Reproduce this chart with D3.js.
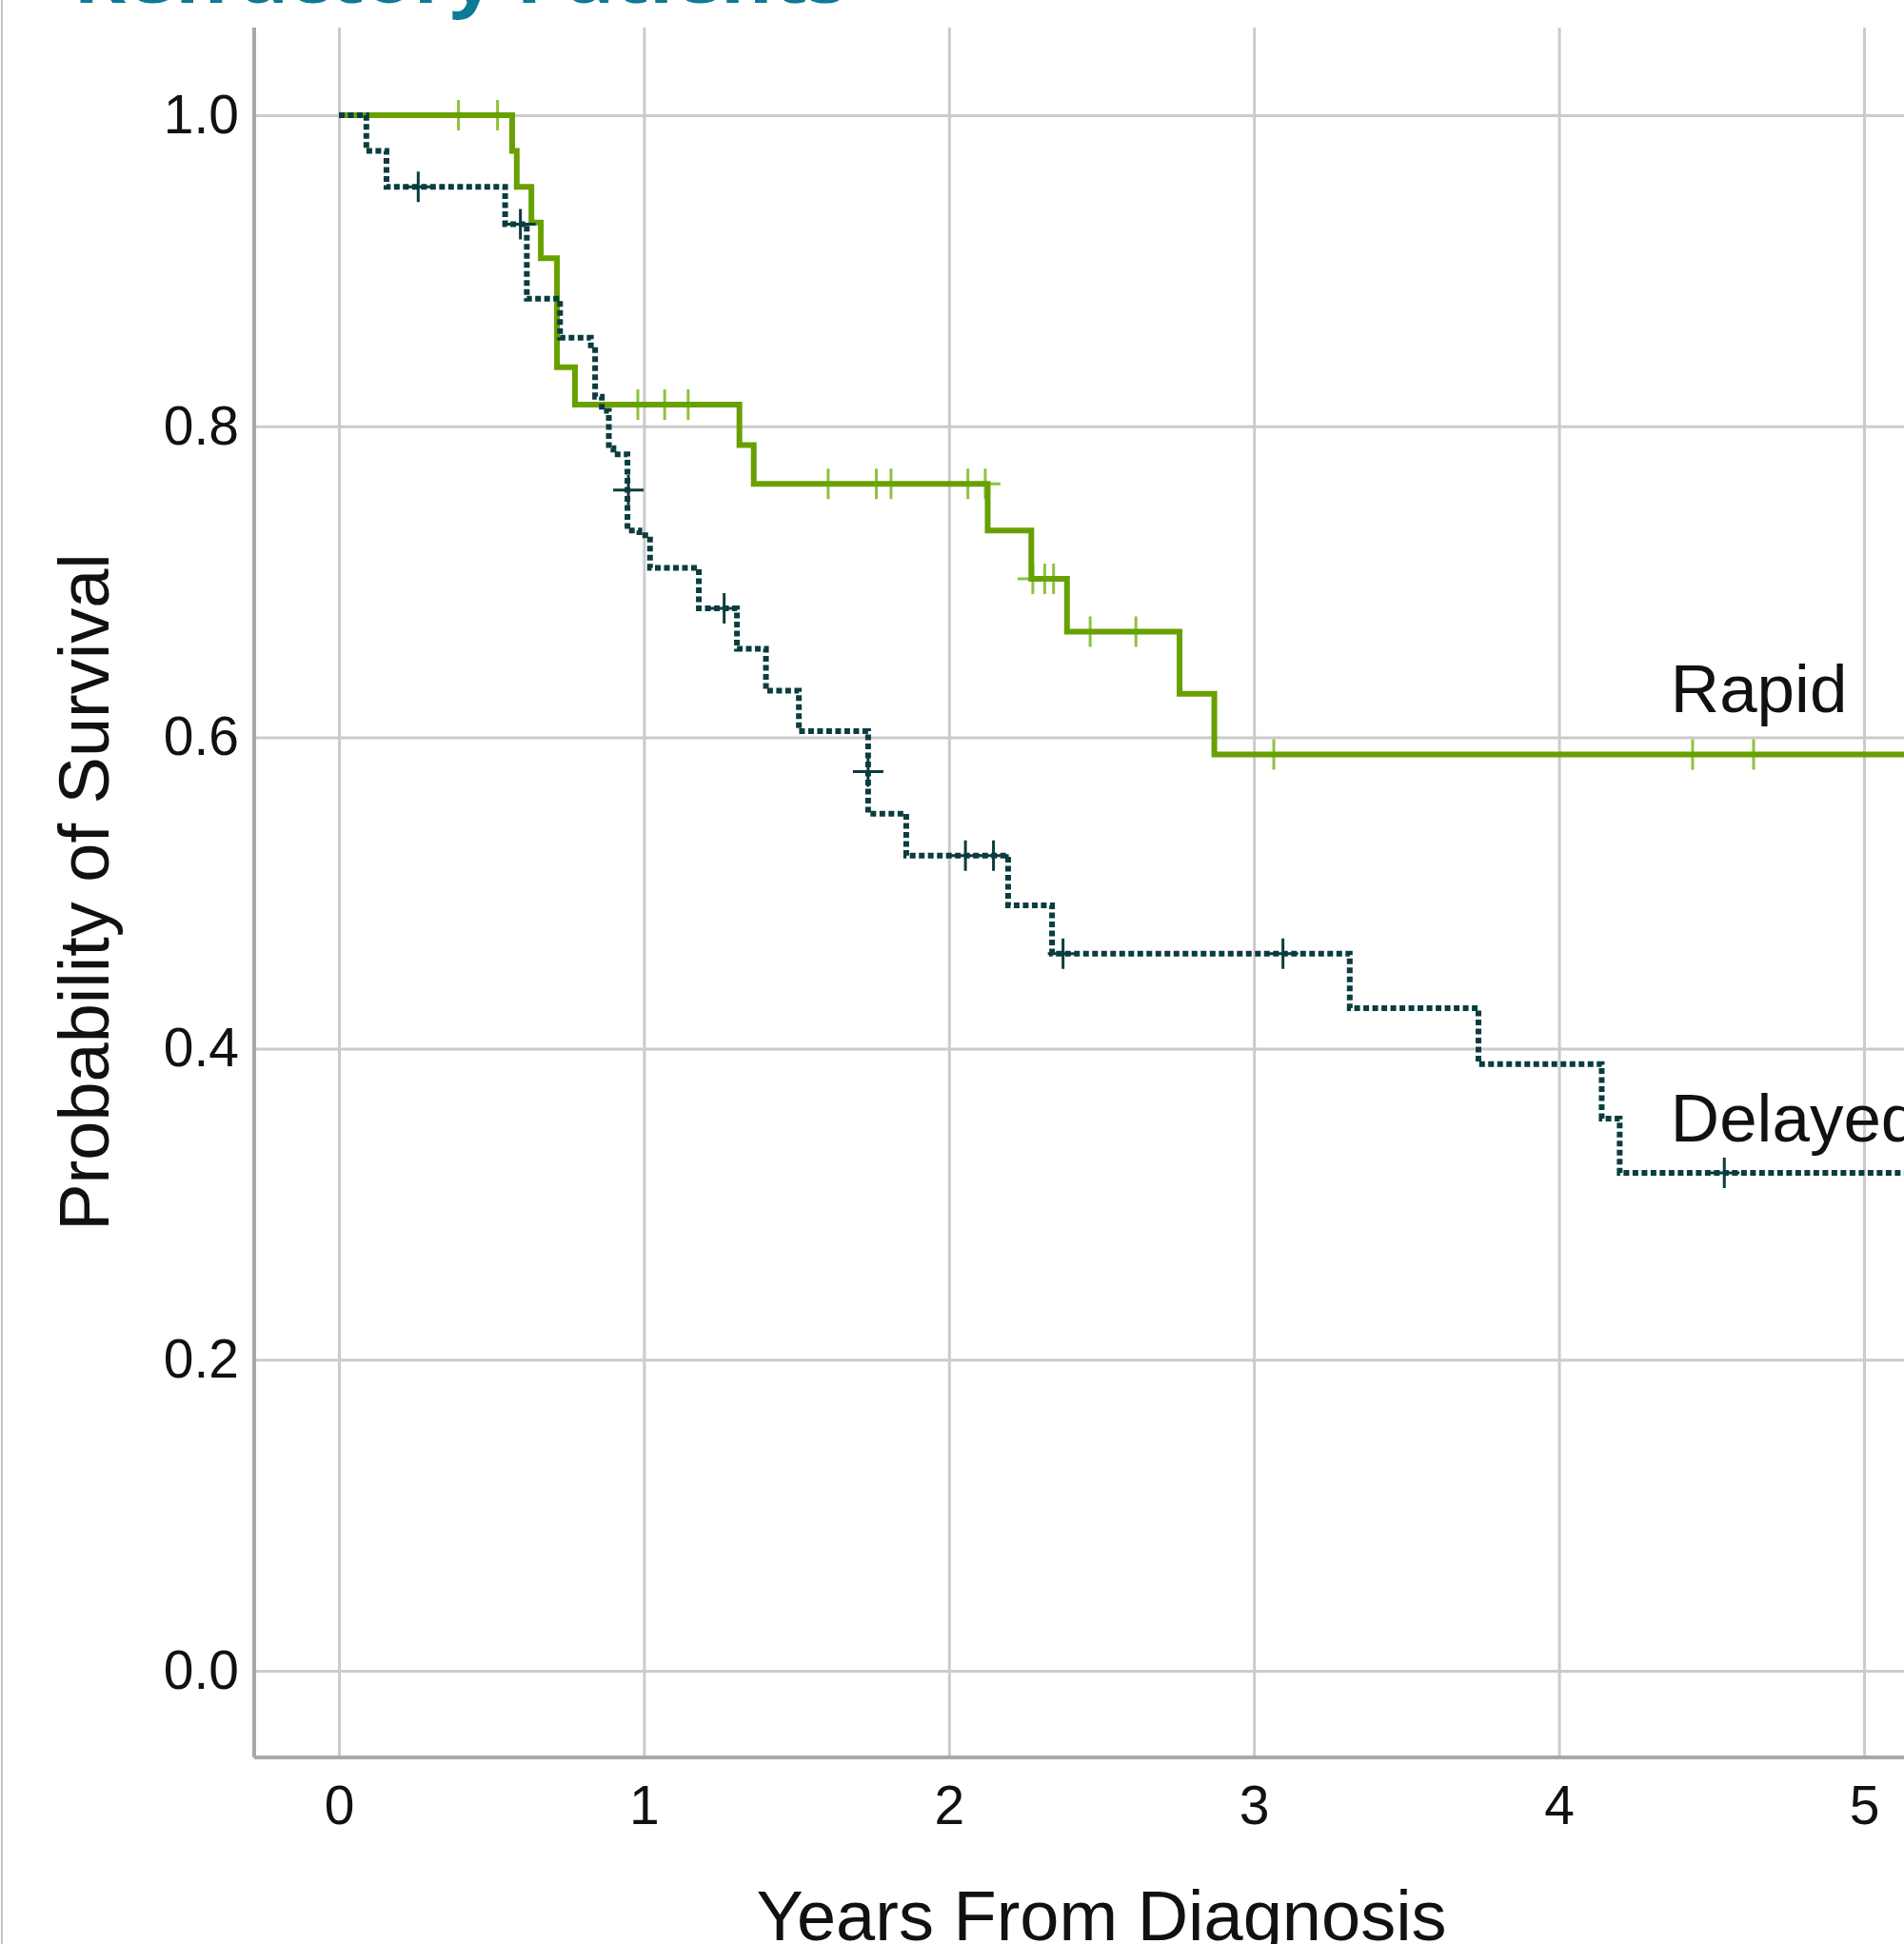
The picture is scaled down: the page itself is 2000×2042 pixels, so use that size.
<!DOCTYPE html>
<html lang='en'>
<head>
	<meta charset='utf-8'>
	<script type='text/javascript' src='https://d3js.org/d3.v7.min.js'></script>
	<style type='text/css'>
		body{
			margin:0;
			background:#fff;
		}
		.axis text{
			font-family:'Liberation Sans', Arial, sans-serif;
			font-size:57px;
			fill:#111;
		}
		.axis-title{
			font-family:'Liberation Sans', Arial, sans-serif;
			font-size:74px;
			fill:#111;
		}
		.group-label{
			font-family:'Liberation Sans', Arial, sans-serif;
			font-size:71px;
			fill:#111;
		}
		.title{
			font-family:'Open Sans', sans-serif;
			font-weight:bold;
			font-size:76px;
			fill:#0d7a96;
		}
	</style>
</head>
<body>
	<div id='chart'></div>

	<script type='text/javascript'>
		//ticks
		var xTicks = [0, 1, 2, 3, 4, 5];
		var yTicks = [0, 0.2, 0.4, 0.6, 0.8, 1.0];

		//rapid group: step points (years, survival) and censored cases
		var rapidTimes = [0, 0.568, 0.583, 0.631, 0.662, 0.715, 0.774, 1.313, 1.36, 2.127, 2.27, 2.387, 2.756, 2.87, 5.3];
		var rapidSurv  = [1.0, 0.977, 0.954, 0.931, 0.908, 0.838, 0.814, 0.788, 0.763, 0.733, 0.702, 0.668, 0.628, 0.589, 0.589];
		var rapidCensorTimes = [0.392, 0.52, 0.98, 1.068, 1.145, 1.604, 1.762, 1.81, 2.062, 2.119, 2.275, 2.314, 2.343, 2.463, 2.613, 3.065, 4.438, 4.638];
		var rapidCensorSurv  = [1.0, 1.0, 0.814, 0.814, 0.814, 0.763, 0.763, 0.763, 0.763, 0.763, 0.702, 0.702, 0.702, 0.668, 0.668, 0.589, 0.589, 0.589];

		//delayed group
		var delayedTimes = [0, 0.090, 0.156, 0.545, 0.616, 0.725, 0.826, 0.840, 0.862, 0.885, 0.900, 0.946, 0.985, 1.020, 1.180, 1.305, 1.400, 1.508, 1.735, 1.860, 2.194, 2.338, 3.314, 3.736, 4.140, 4.199, 5.3];
		var delayedSurv  = [1.0, 0.977, 0.954, 0.930, 0.882, 0.857, 0.852, 0.819, 0.810, 0.786, 0.782, 0.733, 0.730, 0.709, 0.683, 0.657, 0.630, 0.604, 0.551, 0.524, 0.492, 0.461, 0.426, 0.390, 0.355, 0.320, 0.320];
		var delayedCensorTimes = [0.26, 0.595, 0.949, 1.263, 1.735, 2.054, 2.146, 2.374, 3.095, 4.542];
		var delayedCensorSurv  = [0.954, 0.930, 0.759, 0.683, 0.578, 0.524, 0.524, 0.461, 0.461, 0.320];

		var width = 2000,
			height = 2042;

		//plot frame
		var plotLeft = 267,
			plotTop = 29,
			plotBottom = 1846;

		var x = d3.scaleLinear()
					.domain([0, 5])
					.range([356, 1958]);

		var y = d3.scaleLinear()
					.domain([0, 1])
					.range([1755, 121]);

		var svg = d3.select('#chart')
			.append('svg')
			.attr('width', width)
			.attr('height', height);

		//title, cut at the top
		svg.append('text')
			.attr('class', 'title')
			.attr('x', 77)
			.attr('y', 3)
			.attr('textLength', 813)
			.attr('lengthAdjust', 'spacingAndGlyphs')
			.text('Refractory Patients');

		//thin frame line at the left edge
		svg.append('line')
			.attr('x1', 2).attr('x2', 2)
			.attr('y1', 0).attr('y2', height)
			.style('stroke', '#c4c4c4')
			.style('stroke-width', 2);

		//x axis with grid
		var xAxis = svg.append('g')
			.attr('class', 'axis')
			.attr('transform', 'translate(0,' + plotBottom + ')')
			.call(d3.axisBottom(x)
				.tickValues(xTicks)
				.tickSize(-(plotBottom - plotTop))
				.tickPadding(30)
				.tickFormat(d3.format('d')));

		//y axis with grid
		var yAxis = svg.append('g')
			.attr('class', 'axis')
			.attr('transform', 'translate(' + plotLeft + ',0)')
			.call(d3.axisLeft(y)
				.tickValues(yTicks)
				.tickSize(-(width - plotLeft))
				.tickPadding(16)
				.tickFormat(d3.format('.1f')));

		svg.selectAll('.axis .domain').remove();
		svg.selectAll('.axis .tick line')
			.style('stroke', '#cbcbcb')
			.style('stroke-width', 3);
		xAxis.selectAll('.tick line')
			.attr('y1', 0);

		//axis lines
		svg.append('line')
			.attr('x1', plotLeft).attr('x2', plotLeft)
			.attr('y1', plotTop).attr('y2', plotBottom)
			.style('stroke', '#a8a8a8')
			.style('stroke-width', 4);
		svg.append('line')
			.attr('x1', plotLeft).attr('x2', width)
			.attr('y1', plotBottom).attr('y2', plotBottom)
			.style('stroke', '#a8a8a8')
			.style('stroke-width', 4);

		var step = d3.line()
			.x(function(d){ return x(d[0]); })
			.y(function(d){ return y(d[1]); })
			.curve(d3.curveStepAfter);

		function drawCensors(times, surv, color, cls){
			svg.selectAll('.' + cls)
				.data(d3.zip(times, surv))
				.enter()
				.append('path')
				.attr('class', cls)
				.attr('d', function(d){
					var cx = x(d[0]), cy = y(d[1]);
					return 'M' + (cx - 16) + ',' + cy + 'H' + (cx + 16) + 'M' + cx + ',' + (cy - 16) + 'V' + (cy + 16);
				})
				.style('fill', 'none')
				.style('stroke', color)
				.style('stroke-width', 3);
		}

		//rapid
		drawCensors(rapidCensorTimes, rapidCensorSurv, '#8cc43c', 'censor-rapid');
		svg.append('path')
			.datum(d3.zip(rapidTimes, rapidSurv))
			.attr('d', step)
			.style('fill', 'none')
			.style('stroke', '#68a000')
			.style('stroke-width', 6);

		//delayed
		svg.append('path')
			.datum(d3.zip(delayedTimes, delayedSurv))
			.attr('d', step)
			.style('fill', 'none')
			.style('stroke', '#0b3c3e')
			.style('stroke-width', 6)
			.style('stroke-dasharray', '6,3.5');
		drawCensors(delayedCensorTimes, delayedCensorSurv, '#0b3c3e', 'censor-delayed');

		//group labels
		svg.append('text')
			.attr('class', 'group-label')
			.attr('x', x(4.366))
			.attr('y', y(0.616))
			.text('Rapid');
		svg.append('text')
			.attr('class', 'group-label')
			.attr('x', x(4.366))
			.attr('y', y(0.34))
			.text('Delayed');

		//axis titles
		svg.append('text')
			.attr('class', 'axis-title')
			.attr('text-anchor', 'middle')
			.attr('x', 1157)
			.attr('y', 2038)
			.text('Years From Diagnosis');
		svg.append('text')
			.attr('class', 'axis-title')
			.attr('text-anchor', 'middle')
			.attr('transform', 'translate(114,937) rotate(-90)')
			.text('Probability of Survival');
	</script>
</body>
</html>
